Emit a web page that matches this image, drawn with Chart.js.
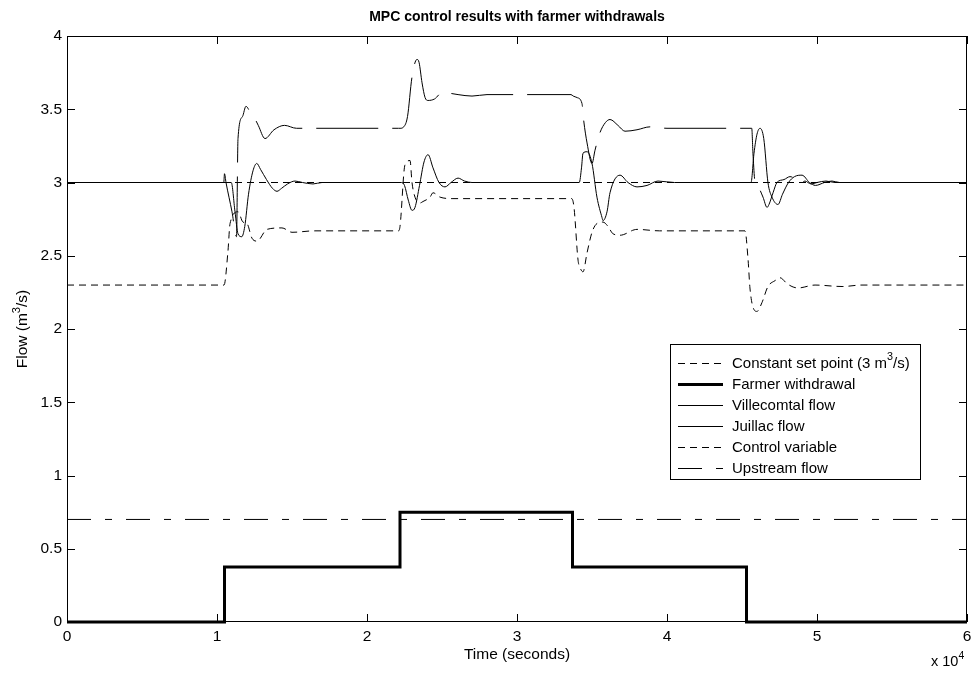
<!DOCTYPE html>
<html><head><meta charset="utf-8">
<script src="https://cdn.jsdelivr.net/npm/chart.js@4/dist/chart.umd.min.js"></script>
<style>html,body{margin:0;padding:0;background:#fff}canvas{display:block}</style>
</head><body>
<canvas id="c" width="979" height="675"></canvas>
<script>
const FONT = '"Liberation Sans", Arial, Helvetica, sans-serif';
const TXT = 15.5;

// ---- data (time in seconds, flow in m3/s) ----
const xTicks = [0, 10000, 20000, 30000, 40000, 50000, 60000];
const yTicks = [0, 0.5, 1, 1.5, 2, 2.5, 3, 3.5, 4];

const setPointT = [0, 60000];
const setPointQ = [3, 3];

const withdrawalT = [0, 10500, 10500, 22200, 22200, 33700, 33700, 45300, 45300, 60000];
const withdrawalQ = [0, 0, 0.375, 0.375, 0.75, 0.75, 0.375, 0.375, 0, 0];

const villecomtalT = [0,10450,10500,10600,11000,11300,11400,11700,11930,12300,12550,12750,13200,13800,14500,15300,22100,22200,22450,22700,23000,23330,23470,23670,23870,24070,24500,25070,25500,26070,27000,28000,33600,33750,34000,34330,34450,34670,35000,35200,35530,35900,36200,36730,37200,38000,38870,40000,45200,45650,45730,45870,46070,46400,46670,46800,47070,47330,47800,48200,48600,48870,49200,49600,50000,50600,51200,60000];
const villecomtalQ = [3.0,3.0,3.06,3.0,2.8,2.63,3.3,3.45,3.52,3.46,3.43,3.39,3.30,3.36,3.39,3.37,3.37,3.37,3.38,3.45,3.72,3.84,3.82,3.68,3.58,3.56,3.57,3.62,3.61,3.60,3.59,3.60,3.60,3.59,3.58,3.54,3.42,3.27,3.13,3.22,3.34,3.41,3.43,3.39,3.35,3.36,3.38,3.37,3.37,3.37,3.2,3.0,2.97,2.9,2.83,2.85,2.93,3.0,3.02,3.04,3.02,2.99,3.01,2.99,3.0,3.01,3.0,3.0];

const juillacT = [0,10950,11200,11400,11650,11850,12100,12400,12650,12900,13300,13700,14000,14300,14700,15200,15700,16400,17000,22300,22500,22750,23000,23200,23500,23800,24070,24400,24800,25200,25600,26070,26500,27000,34150,34300,34400,34670,35000,35330,35670,35730,36000,36200,36870,37400,38000,38670,39400,40500,45600,45800,46000,46200,46450,46730,47000,47400,47700,48100,48500,49000,49500,49900,50500,51000,51500,60000];
const juillacQ = [3.0,3.0,2.8,2.65,2.63,2.7,2.92,3.08,3.13,3.09,3.02,2.96,2.94,2.96,2.99,3.01,3.0,2.99,3.0,3.0,2.98,2.88,2.81,2.83,2.98,3.14,3.19,3.1,3.0,2.97,3.0,3.03,3.01,3.0,3.0,3.1,3.2,3.21,3.13,2.90,2.76,2.74,2.8,2.93,3.05,3.0,2.97,2.98,3.01,3.0,3.0,3.2,3.33,3.37,3.3,3.0,2.9,2.85,2.92,3.0,3.04,3.05,3.0,2.98,3.0,3.01,3.0,3.0];

const controlT = [0,10470,10730,10870,11400,11730,12000,12330,12670,13330,14330,15000,16500,22100,22200,22530,22870,23000,23200,23530,23730,24200,24400,24870,25730,33650,33800,34070,34200,34400,34670,35000,35330,35730,36070,36400,36870,38000,39500,45200,45400,45530,45730,46000,46330,46730,47200,47530,48000,48330,48730,49870,51670,53000,60000];
const controlQ = [2.30,2.30,2.53,2.72,2.80,2.73,2.72,2.62,2.60,2.68,2.69,2.66,2.67,2.67,2.70,3.12,3.15,3.00,2.90,2.86,2.87,2.90,2.93,2.90,2.89,2.89,2.83,2.47,2.42,2.39,2.52,2.66,2.72,2.73,2.70,2.65,2.64,2.68,2.67,2.67,2.48,2.28,2.15,2.12,2.18,2.29,2.33,2.35,2.31,2.29,2.28,2.30,2.29,2.30,2.30];

const upstreamT = [0, 60000];
const upstreamQ = [0.7, 0.7];

const pts = (t, q) => t.map((x, i) => ({ x: x, y: q[i] }));

// ---- helpers ----
function richWidth(ctx, parts, size) {
  let w = 0;
  parts.forEach(p => { ctx.font = (p.sup ? size * 0.72 : size) + 'px ' + FONT; w += ctx.measureText(p.t).width; });
  return w;
}
function richText(ctx, parts, x, y, size, align) {
  const w = richWidth(ctx, parts, size);
  let cx = align === 'center' ? x - w / 2 : (align === 'right' ? x - w : x);
  ctx.textAlign = 'left';
  ctx.textBaseline = 'middle';
  parts.forEach(p => {
    ctx.font = (p.sup ? size * 0.72 : size) + 'px ' + FONT;
    ctx.fillText(p.t, cx, p.sup ? y - size * 0.42 : y);
    cx += ctx.measureText(p.t).width;
  });
}

const decor = {
  id: 'decor',
  afterDraw(chart) {
    const ctx = chart.ctx, a = chart.chartArea;
    const xs = chart.scales.x, ys = chart.scales.y;
    ctx.save();
    ctx.strokeStyle = '#000'; ctx.fillStyle = '#000'; ctx.lineWidth = 1; ctx.setLineDash([]);
    // box
    ctx.strokeRect(Math.round(a.left) + 0.5, Math.round(a.top) + 0.5, Math.round(a.right - a.left) - 1, Math.round(a.bottom - a.top) - 1);
    // inward ticks
    const TL = 8;
    ctx.beginPath();
    xTicks.forEach(v => {
      const px = Math.round(xs.getPixelForValue(v)) + 0.5;
      ctx.moveTo(px, a.bottom); ctx.lineTo(px, a.bottom - TL);
      ctx.moveTo(px, a.top); ctx.lineTo(px, a.top + TL);
    });
    yTicks.forEach(v => {
      const py = Math.round(ys.getPixelForValue(v)) + 0.5;
      ctx.moveTo(a.left, py); ctx.lineTo(a.left + TL, py);
      ctx.moveTo(a.right, py); ctx.lineTo(a.right - TL, py);
    });
    ctx.stroke();
    // title
    ctx.font = 'bold 14px ' + FONT; ctx.textAlign = 'center'; ctx.textBaseline = 'middle';
    ctx.fillText('MPC control results with farmer withdrawals', (a.left + a.right) / 2, 17);
    // x title
    ctx.font = TXT + 'px ' + FONT;
    ctx.fillText('Time (seconds)', (a.left + a.right) / 2, 655);
    // exponent
    richText(ctx, [{ t: 'x 10' }, { t: '4', sup: true }], 931, 662, 14.5, 'left');
    // y title
    ctx.save();
    ctx.translate(23, (a.top + a.bottom) / 2);
    ctx.rotate(-Math.PI / 2);
    richText(ctx, [{ t: 'Flow (m' }, { t: '3', sup: true }, { t: '/s)' }], 0, 0, TXT, 'center');
    ctx.restore();
    // legend
    const lx = 670, ly = 344, lw = 250, lh = 135;
    ctx.fillStyle = '#fff';
    ctx.fillRect(lx, ly, lw, lh);
    ctx.strokeStyle = '#000'; ctx.lineWidth = 1;
    ctx.strokeRect(lx + 0.5, ly + 0.5, lw, lh);
    const items = [
      { ds: 0, parts: [{ t: 'Constant set point (3 m' }, { t: '3', sup: true }, { t: '/s)' }] },
      { ds: 1, parts: [{ t: 'Farmer withdrawal' }] },
      { ds: 2, parts: [{ t: 'Villecomtal flow' }] },
      { ds: 3, parts: [{ t: 'Juillac flow' }] },
      { ds: 4, parts: [{ t: 'Control variable' }] },
      { ds: 5, parts: [{ t: 'Upstream flow' }] }
    ];
    items.forEach((it, i) => {
      const d = chart.data.datasets[it.ds];
      const y = Math.round(363 + i * 20.9) + 0.5;
      ctx.save();
      ctx.strokeStyle = '#000';
      ctx.lineWidth = d.borderWidth || 1;
      ctx.setLineDash(d.legendDash || d.borderDash || []);
      ctx.beginPath(); ctx.moveTo(678, y); ctx.lineTo(723, y); ctx.stroke();
      ctx.restore();
      ctx.fillStyle = '#000';
      richText(ctx, it.parts, 732, y, 15, 'left');
    });
    ctx.restore();
  }
};

new Chart(document.getElementById('c'), {
  type: 'line',
  data: {
    datasets: [
      { label: 'Constant set point (3 m³/s)', data: pts(setPointT, setPointQ), borderColor: '#000', borderWidth: 1, borderDash: [7, 5] },
      { label: 'Farmer withdrawal', data: pts(withdrawalT, withdrawalQ), borderColor: '#000', borderWidth: 3, clip: 4 },
      { label: 'Villecomtal flow', data: pts(villecomtalT, villecomtalQ), borderColor: '#000', borderWidth: 1, borderDash: [62, 14], legendDash: [], cubicInterpolationMode: 'monotone' },
      { label: 'Juillac flow', data: pts(juillacT, juillacQ), borderColor: '#000', borderWidth: 1, cubicInterpolationMode: 'monotone' },
      { label: 'Control variable', data: pts(controlT, controlQ), borderColor: '#000', borderWidth: 1, borderDash: [7, 5], cubicInterpolationMode: 'monotone' },
      { label: 'Upstream flow', data: pts(upstreamT, upstreamQ), borderColor: '#000', borderWidth: 1, borderDash: [24, 14, 7, 14] }
    ]
  },
  options: {
    responsive: false,
    animation: false,
    devicePixelRatio: 1,
    layout: { padding: { left: 0, right: 12, top: 36, bottom: 0 } },
    elements: { point: { radius: 0 }, line: { tension: 0 } },
    plugins: { legend: { display: false }, title: { display: false }, tooltip: { enabled: false } },
    scales: {
      x: {
        type: 'linear', min: 0, max: 60000,
        afterFit(s) { s.height = 53; },
        afterBuildTicks(s) { s.ticks = xTicks.map(v => ({ value: v })); },
        ticks: { callback: v => String(v / 10000), font: { family: FONT, size: TXT }, color: '#000', padding: 5, maxRotation: 0, autoSkip: false },
        grid: { display: false, drawTicks: false },
        border: { display: false }
      },
      y: {
        type: 'linear', min: 0, max: 4,
        afterFit(s) { s.width = 67; },
        afterBuildTicks(s) { s.ticks = yTicks.map(v => ({ value: v })); },
        ticks: { callback: v => String(v), font: { family: FONT, size: TXT }, color: '#000', padding: 5, autoSkip: false },
        grid: { display: false, drawTicks: false },
        border: { display: false }
      }
    }
  },
  plugins: [decor]
});
</script>
</body></html>
